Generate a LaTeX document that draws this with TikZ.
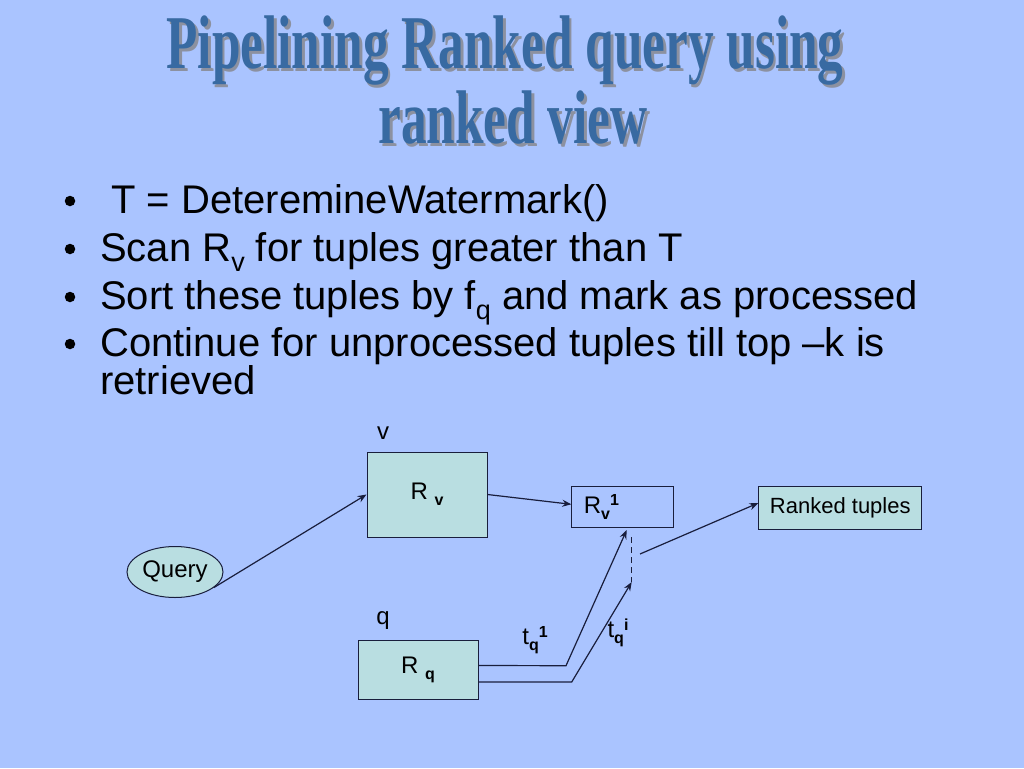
\documentclass[tikz,border=0pt]{standalone}
\usepackage{fontspec}
\setmainfont{Liberation Sans}
\newfontfamily\titlefont{Liberation Serif}
\usetikzlibrary{shapes.geometric,arrows.meta,calc}
\definecolor{bgc}{RGB}{170,196,255}
\definecolor{tealf}{RGB}{185,222,225}
\definecolor{titc}{RGB}{56,106,162}
\definecolor{shadc}{RGB}{140,145,160}
\definecolor{linec}{RGB}{25,30,60}
\newcommand\bsub[1]{\raisebox{-0.25em}{\fontsize{27}{27}\selectfont #1}}
\newcommand\dsub[1]{\raisebox{-0.25em}{\fontsize{16}{16}\selectfont\bfseries #1}}
\newcommand\dsup[1]{\raisebox{0.32em}{\fontsize{16}{16}\selectfont\bfseries #1}}
\newcommand\shadowed[1]{\makebox[0pt][l]{\kern4pt\raisebox{-3pt}{\color{shadc}#1}}{\color{titc}#1}}
\newcommand\tline[1]{\scalebox{0.675}[1]{\titlefont\bfseries\fontsize{76}{76}\selectfont\shadowed{#1}}}
\tikzset{
  tealbox/.style={draw=linec, line width=1pt, fill=tealf, font=\fontsize{24}{24}\selectfont},
  plainbox/.style={draw=linec, line width=1pt, font=\fontsize{24}{24}\selectfont},
  conn/.style={draw=linec, line width=1.2pt, -{Stealth[length=9pt,width=7pt]}},
  bul/.style={anchor=base west, inner sep=0pt, font=\fontsize{40}{40}\selectfont},
  dot/.style={circle, fill=black, inner sep=0pt, minimum size=10.5pt},
  lab/.style={inner sep=0pt, font=\fontsize{24}{24}\selectfont},
}
\begin{document}
\begin{tikzpicture}[x=1pt,y=-1pt]
\fill[bgc] (0,0) rectangle (1024,768);
\useasboundingbox (0,0) rectangle (1024,768);
% title
\node[anchor=base, inner sep=0pt] (t1) at (505,68) {\tline{Pipelining Ranked query using}};
\node[anchor=base, inner sep=0pt] (t2) at (513,143) {\tline{ranked view}};
% bullets
\foreach \y [count=\i] in {201,249,297,344} { \node[dot] (d\i) at (70,\y) {}; }
\node[bul] (b1) at (100,213) {\ T = DeteremineWatermark()};
\node[bul] (b2) at (100,261) {Scan R\bsub{v} for tuples greater than T};
\node[bul] (b3) at (100,309) {Sort these tuples by f\bsub{q} and mark as processed};
\node[bul] (b4) at (100,356) {Continue for unprocessed tuples till top –k is};
\node[bul] (b5) at (100,394) {retrieved};
% diagram
\node[lab] (lv) at (383,433) {v};
\node[lab] (lq) at (383,621) {q};
\node[tealbox, minimum width=120, minimum height=85] (rv) at (427,494.5) {\raisebox{-3pt}{R \dsub{v}}};
\node[plainbox, minimum width=102, minimum height=41, inner xsep=12, text width=78, align=left] (rv1) at (622.8,507.3) {R\dsub{v}\dsup{1}};
\node[tealbox, minimum width=163, minimum height=43, font=\fontsize{22}{22}\selectfont] (rt) at (840.3,507.5) {Ranked tuples};
\node[tealbox, ellipse, minimum width=96, minimum height=51, inner sep=0pt] (query) at (175,572) {\raisebox{-2pt}{Query}};
\node[tealbox, minimum width=120, minimum height=59] (rq) at (418,669.5) {R \dsub{q}};
\node[lab] (t1l) at (535,640) {t\dsub{q}\dsup{1}};
\node[lab] (til) at (618,633) {t\dsub{q}\dsup{i}};
\coordinate (dtop) at (631.7,537);
\coordinate (dbot) at (631.7,582);
\coordinate (mark) at (640,554);
\coordinate (bend1) at (566,665.7);
\coordinate (bend2) at (571.7,682);
\coordinate (end1) at (626.7,530);
\draw[conn] (query.-22) -- (rv.west);
\draw[conn] (rv.east) -- ($(rv1.west)+(0,-3)$);
\draw[conn] (mark) -- ($(rt.west)+(0,-4.5)$);
\draw[linec, line width=1.2pt, dashed, dash pattern=on 6pt off 4pt] (dtop) -- (dbot);
\draw[conn] ($(rq.east)+(0,-4)$) -- (bend1) -- (end1);
\draw[conn] ($(rq.east)+(0,12.5)$) -- (bend2) -- (dbot);
\end{tikzpicture}
\end{document}
